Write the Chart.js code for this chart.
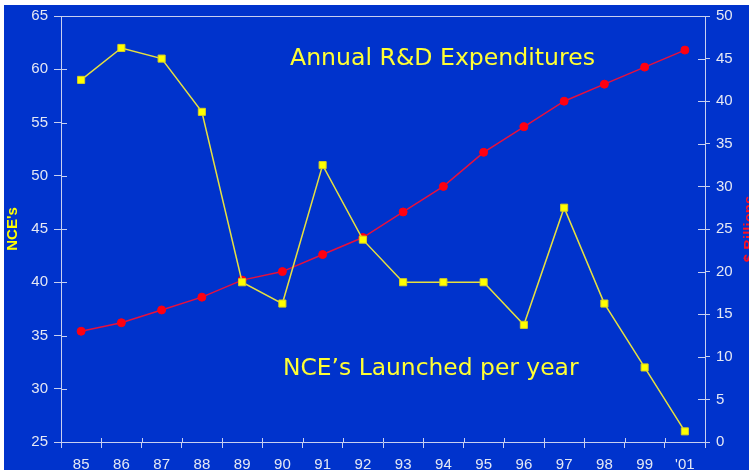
<!DOCTYPE html>
<html>
<head>
<meta charset="utf-8">
<script src="https://cdn.jsdelivr.net/npm/chart.js@4.4.1/dist/chart.umd.min.js"></script>
<style>
  html, body { margin: 0; padding: 0; background: #ffffff; }
  #wrap { width: 749px; height: 472px; position: relative; }
</style>
</head>
<body>
<div id="wrap"><canvas id="chart" width="749" height="472"></canvas></div>
<script>
// years on the x axis (no 2000 in the source)
const years = ['85', '86', '87', '88', '89', '90', '91', '92', '93', '94', '95', '96', '97', '98', '99', '\'01'];

// new chemical entities launched per year (left axis)
const nceLaunched = [59, 62, 61, 56, 40, 38, 51, 44, 40, 40, 40, 36, 47, 38, 32, 26];

// annual R&D expenditures, $ billions (right axis)
const rdSpend = [13, 14, 15.5, 17, 19, 20, 22, 24, 27, 30, 34, 37, 40, 42, 44, 46];

const axisColor = '#c8d0f0';
const labelColor = '#e4e8f4';
const bgBlue = '#0033cc';

// blue panel, top frame line, inner tick halves, annotations
const decorPlugin = {
  id: 'decor',
  beforeDraw(chart) {
    const { ctx, width, height } = chart;
    ctx.save();
    ctx.fillStyle = '#ffffff';
    ctx.fillRect(0, 0, width, height);
    ctx.fillStyle = bgBlue;
    ctx.fillRect(4, 5, width - 4, height - 7);
    ctx.restore();
  },
  afterDraw(chart) {
    const { ctx, chartArea } = chart;
    const x = chart.scales.x;
    const yL = chart.scales.y;
    const yR = chart.scales.y1;
    ctx.save();
    ctx.strokeStyle = axisColor;
    ctx.lineWidth = 1;
    ctx.beginPath();
    ctx.moveTo(chartArea.left, chartArea.top + 0.5);
    ctx.lineTo(chartArea.right, chartArea.top + 0.5);
    yL.ticks.forEach((t) => {
      const py = Math.round(yL.getPixelForValue(t.value)) + 0.5;
      ctx.moveTo(chartArea.left, py);
      ctx.lineTo(chartArea.left + 6, py);
    });
    yR.ticks.forEach((t) => {
      const py = Math.round(yR.getPixelForValue(t.value)) + 0.5;
      ctx.moveTo(chartArea.right, py);
      ctx.lineTo(chartArea.right - 7, py);
    });
    for (let i = 1; i < years.length; i++) {
      const px = Math.round((x.getPixelForTick(i - 1) + x.getPixelForTick(i)) / 2) + 0.5;
      ctx.moveTo(px, chartArea.bottom);
      ctx.lineTo(px, chartArea.bottom - 4);
    }
    ctx.stroke();

    ctx.fillStyle = '#ffff33';
    ctx.font = '23.6px "DejaVu Sans"';
    ctx.textAlign = 'left';
    ctx.textBaseline = 'alphabetic';
    ctx.fillText('Annual R&D Expenditures', 290, 65);
    ctx.font = '23.4px "DejaVu Sans"';
    ctx.fillText('NCE\u2019s Launched per year', 283, 375);

    // right axis title, mostly cut off by the page edge
    ctx.translate(754, (chartArea.top + chartArea.bottom) / 2);
    ctx.rotate(-Math.PI / 2);
    ctx.fillStyle = '#ff1020';
    ctx.font = 'bold 15px "Liberation Sans"';
    ctx.textAlign = 'center';
    ctx.fillText('$ Billions', 0, 0);
    ctx.restore();
  },
};

const ctx = document.getElementById('chart').getContext('2d');
// eslint-disable-next-line no-unused-vars
const myChart = new Chart(ctx, {
  type: 'line',
  data: {
    labels: years,
    datasets: [
      {
        label: 'NCE\'s',
        data: nceLaunched,
        yAxisID: 'y',
        borderColor: '#e6e040',
        borderWidth: 1.5,
        pointStyle: 'rect',
        pointRadius: 5,
        pointBackgroundColor: '#ffff00',
        pointBorderColor: '#d8d020',
        pointBorderWidth: 1,
        tension: 0,
      },
      {
        label: '$ Billions',
        data: rdSpend,
        yAxisID: 'y1',
        borderColor: '#e8103c',
        borderWidth: 1.5,
        pointStyle: 'circle',
        pointRadius: 4,
        pointBackgroundColor: '#ff0010',
        pointBorderColor: '#ff0010',
        pointBorderWidth: 1,
        tension: 0,
      },
    ],
  },
  options: {
    responsive: false,
    animation: false,
    events: [],
    layout: { padding: { top: 16, left: 0, right: 0, bottom: 0 } },
    plugins: {
      legend: { display: false },
      tooltip: { enabled: false },
    },
    scales: {
      x: {
        offset: true,
        grid: {
          offset: true,
          drawOnChartArea: false,
          tickLength: 6,
          tickColor: axisColor,
          tickWidth: 1,
        },
        border: { color: axisColor, width: 1 },
        ticks: {
          color: labelColor,
          font: { family: 'Liberation Sans', size: 15 },
          padding: 8,
          maxRotation: 0,
          autoSkip: false,
        },
        afterFit(scale) { scale.height = 30; },
      },
      y: {
        position: 'left',
        min: 25,
        max: 65,
        ticks: {
          stepSize: 5,
          color: labelColor,
          font: { family: 'Liberation Sans', size: 15 },
          padding: 6,
        },
        grid: {
          drawOnChartArea: false,
          tickLength: 7,
          tickColor: axisColor,
        },
        border: { color: axisColor, width: 1 },
        title: {
          display: true,
          text: 'NCE\'s',
          color: '#ffff00',
          font: { family: 'Liberation Sans', size: 15, weight: 'bold' },
          padding: { top: 4, bottom: 0 },
        },
        afterFit(scale) { scale.width = 61; },
      },
      y1: {
        position: 'right',
        min: 0,
        max: 50,
        ticks: {
          stepSize: 5,
          color: labelColor,
          font: { family: 'Liberation Sans', size: 15 },
          padding: 6,
        },
        grid: {
          drawOnChartArea: false,
          tickLength: 5,
          tickColor: axisColor,
        },
        border: { color: axisColor, width: 1 },
        afterFit(scale) { scale.width = 44; },
      },
    },
  },
  plugins: [decorPlugin],
});
</script>
</body>
</html>
